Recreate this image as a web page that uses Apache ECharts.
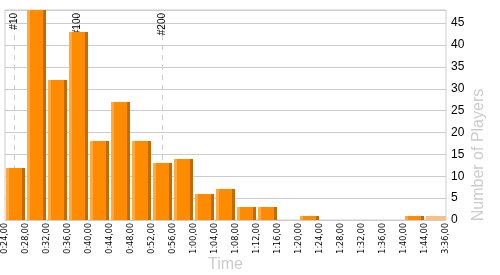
<!DOCTYPE html>
<html><head><meta charset="utf-8">
<script src="https://cdn.jsdelivr.net/npm/echarts@6/dist/echarts.min.js"></script>
<style>html,body{margin:0;padding:0;background:#fff}#c{width:500px;height:275px}</style>
</head><body><div id="c"></div>
<script>
var tickLabels = ['0:24,00','0:28,00','0:32,00','0:36,00','0:40,00','0:44,00','0:48,00','0:52,00','0:56,00','1:00,00','1:04,00','1:08,00','1:12,00','1:16,00','1:20,00','1:24,00','1:28,00','1:32,00','1:36,00','1:40,00','1:44,00','3:36,00'];
var playerCounts = [12, 48, 32, 43, 18, 27, 18, 13, 14, 6, 7, 3, 3, 0, 1, 0, 0, 0, 0, 1, 1];
var rankMarkPositions = [0.44, 3.45, 7.48];
var rankMarkLabels = ['#10', '#100', '#200'];

var chart = echarts.init(document.getElementById('c'));
var data = playerCounts.map(function (v, i) { return [i, v]; });
var lastIdx = playerCounts.length - 1;

chart.setOption({
  animation: false,
  grid: { left: 5, right: 54, top: 10, bottom: 55, show: true, borderColor: '#cccccc', borderWidth: 1, containLabel: false, outerBoundsMode: 'none' },
  xAxis: {
    type: 'value', min: 0, max: tickLabels.length - 1, interval: 1,
    name: 'Time', nameLocation: 'middle', nameGap: 37, nameMoveOverlap: false,
    nameTextStyle: { color: '#cccccc', fontSize: 16, fontFamily: 'Liberation Sans', verticalAlign: 'top' },
    axisLine: { show: false }, axisTick: { show: false }, splitLine: { show: false },
    axisLabel: {
      rotate: 90, fontSize: 8, color: '#000', fontFamily: 'DejaVu Sans', margin: 3,
      showMinLabel: true, showMaxLabel: true, hideOverlap: false,
      formatter: function (v) { return tickLabels[Math.round(v)] || ''; }
    }
  },
  yAxis: {
    type: 'value', position: 'right', min: 0, max: 48, interval: 5,
    axisLine: { show: false }, axisTick: { show: false },
    splitLine: { lineStyle: { color: '#cccccc', width: 1 } },
    axisLabel: { fontSize: 12, color: '#000', fontFamily: 'Liberation Sans', margin: 5, showMaxLabel: false }
  },
  graphic: [{
    type: 'text', x: 479, y: 155, rotation: Math.PI / 2,
    style: { text: 'Number of Players', fill: '#cccccc', font: '16px "Liberation Sans"', align: 'center', verticalAlign: 'middle' }
  }],
  series: [{
    type: 'line', data: [], z: 1,
    markLine: {
      z: 1,
      symbol: 'none', silent: true,
      lineStyle: { color: '#cccccc', type: [5, 5], width: 1 },
      label: { position: 'insideEnd', color: '#000', fontSize: 10, fontFamily: 'Liberation Sans', distance: 3 },
      data: rankMarkPositions.map(function (x, k) {
        return { xAxis: x, label: { formatter: rankMarkLabels[k] } };
      })
    }
  }, {
    type: 'custom',
    z: 3,
    data: data,
    clip: false,
    renderItem: function (params, api) {
      var i = api.value(0), v = api.value(1);
      if (v <= 0) return null;
      var p0 = api.coord([i, 0]);
      var p1 = api.coord([i + 1, v]);
      var x0 = Math.round(p0[0]) + 1, x1 = Math.round(p1[0]);
      var yb = Math.round(p0[1]), yt = Math.round(p1[1]);
      var h = yb - yt;
      if (i === lastIdx) {
        return { type: 'rect', shape: { x: x0, y: yt, width: x1 - x0, height: h }, style: { fill: '#ffbf80' } };
      }
      var w = x1 - x0 - 1;
      return {
        type: 'group',
        children: [
          { type: 'rect', shape: { x: x0, y: yt, width: w, height: h }, style: { fill: '#ff8c00' } },
          { type: 'rect', shape: { x: x0, y: yt, width: 3, height: h }, style: { fill: '#ffa940' } },
          { type: 'rect', shape: { x: x0 + w - 3, y: yt, width: 3, height: h }, style: { fill: '#c46a00' } }
        ]
      };
    }
  }]
});
</script></body></html>
